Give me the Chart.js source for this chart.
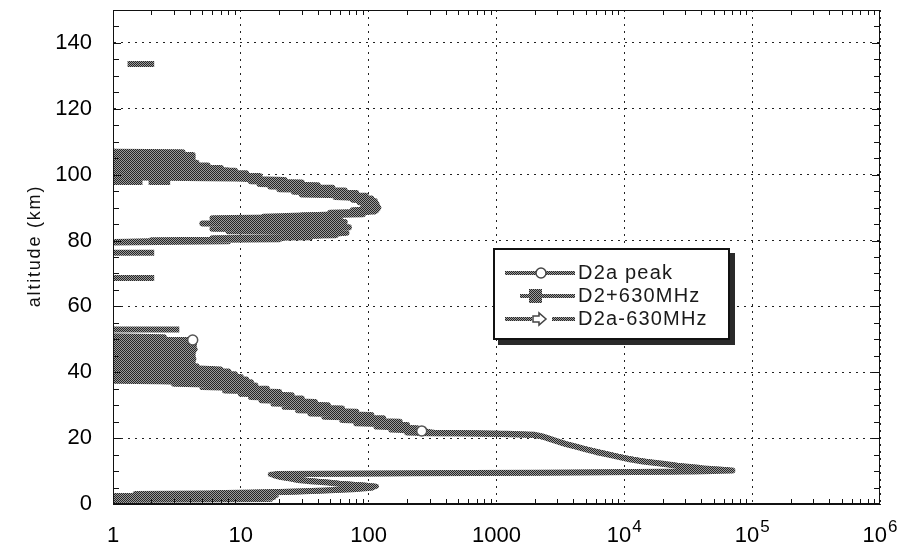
<!DOCTYPE html>
<html>
<head>
<meta charset="utf-8">
<script src="https://cdn.jsdelivr.net/npm/chart.js@4/dist/chart.umd.min.js"></script>
<style>
  html, body { margin: 0; padding: 0; background: #fff; }
</style>
</head>
<body>
<canvas id="profile" width="901" height="549"></canvas>
<script>
// altitude (km), value; null breaks the line
const d2aPeak = [
  [1.2, 1], [1.5, 17], [1.8, 1], [2.1, 18], [2.4, 1], [2.7, 16], [3.0, 1.5], [3.3, 10], [3.7, 25], [4.1, 45],
  [4.5, 75], [4.9, 105], [5.3, 110], [5.7, 85], [6.1, 60], [6.5, 48], [6.9, 35], [7.3, 28], [7.8, 24], [8.3, 20],
  [8.8, 18], [9.1, 19], [9.3, 200], [9.5, 2000], [9.7, 12000], [9.9, 35000], [10.2, 70000],
  [10.6, 42000], [11.0, 38000], [11.6, 26000], [12.2, 20000], [12.9, 14000], [13.6, 11000], [14.3, 9000],
  [15.0, 7500], [15.8, 6000], [16.6, 5000], [17.4, 4200], [18.2, 3500], [19.0, 3000], [19.8, 2600], [20.5, 2300],
  [21.0, 2000], [21.3, 1200], [21.4, 600], [21.5, 300], [21.7, 200],
  [22.2, 260], [22.6, 150], [23.0, 240], [23.5, 115], [24.0, 200], [24.5, 80], [25.0, 175], [25.5, 62],
  [26.0, 130], [26.5, 45], [27.0, 105], [27.5, 35], [28.0, 80], [28.5, 28], [29.0, 62], [29.5, 22], [30.0, 48],
  [30.5, 18], [31.0, 38], [31.5, 14.5], [32.0, 30], [32.5, 12], [33.0, 25], [33.5, 10], [34.0, 20], [34.5, 7.5],
  [35.0, 16], [35.5, 5], [36.0, 13], [36.5, 3], [37.0, 12], [37.4, 1], [37.8, 11], [38.2, 0.9], [38.6, 10],
  [39.0, 0.9], [39.4, 9], [39.8, 0.9], [40.2, 8], [40.6, 0.9], [41.0, 6], [41.4, 0.9], [41.8, 4.5], [42.2, 0.9],
  [42.6, 4.2], [43.0, 0.9], [43.4, 4.2], [43.8, 0.9], [44.2, 4.2], [44.6, 0.9], [45.0, 4.2], [45.4, 0.9],
  [45.8, 4.2], [46.2, 0.9], [46.6, 4.2], [47.0, 0.9], [47.4, 4.2], [47.8, 0.9], [48.2, 4.3], [48.6, 0.9],
  [49.0, 4.3], [49.4, 0.9], [49.8, 4.2], [50.2, 0.9], [50.6, 2.5], [51.0, 0.9], [null, null],
  [53.0, 0.9], [53.0, 3.3], [null, null], [68.6, 0.9], [68.6, 2.1], [null, null], [76.3, 0.9], [76.3, 2.1], [null, null],
  [79.4, 0.9], [79.8, 8], [80.1, 2], [80.4, 20], [80.7, 6], [81.0, 35], [81.3, 15], [81.6, 55], [82.0, 30],
  [82.4, 67], [82.8, 8], [83.2, 60], [83.6, 6], [84.0, 70], [84.4, 10], [84.8, 55], [85.2, 5], [85.6, 65],
  [86.0, 20], [86.4, 45], [86.8, 6], [87.2, 60], [87.6, 30], [88.0, 90], [88.4, 50], [88.8, 110], [89.2, 75],
  [89.6, 117], [90.0, 90], [90.4, 117], [90.8, 95], [91.2, 115], [91.6, 85], [92.0, 112], [92.4, 75], [92.8, 105],
  [93.2, 55], [93.6, 95], [94.0, 30], [94.4, 80], [94.8, 26], [95.2, 65], [95.6, 20], [96.0, 52], [96.4, 17],
  [96.8, 40], [97.2, 14], [97.6, 30], [98.0, 12], [98.4, 22], [98.8, 9], [99.2, 0.9], [99.6, 14], [100.0, 0.9],
  [100.4, 11], [100.8, 0.9], [101.2, 9], [101.6, 0.9], [102.0, 7], [102.4, 0.9], [102.8, 5.5], [103.2, 0.9],
  [103.6, 4.5], [104.0, 0.9], [104.4, 4.2], [104.8, 0.9], [105.2, 4.2], [105.6, 0.9], [106.0, 4.2], [106.4, 0.9],
  [106.8, 3.5], [107.0, 0.9], [null, null],
  [133.6, 1.3], [133.6, 2.1]
];
// altitudes where the D2a peak curve carries its circle marker
const peakMarks = [49.8, 22.2];

const d2Plus630 = [
  [1.8, 1], [2.0, 14], [2.3, 1], [2.6, 19], [3.0, 2], [3.5, 20], [4.2, 55], [4.8, 95], [5.4, 115], [6.0, 70],
  [6.8, 40], [7.6, 27], [8.6, 19], [9.0, 17], [9.4, 900], [9.8, 25000], [10.4, 65000], [11.2, 33000],
  [12.4, 18000], [13.8, 10500], [15.4, 7000], [17.0, 4600], [18.6, 3200], [20.2, 2500], [21.2, 1700],
  [21.6, 700], [21.8, 250], [22.4, 200], [23.2, 160], [24.2, 130], [25.2, 95], [26.2, 75], [27.2, 55],
  [28.2, 42], [29.2, 33], [30.2, 26], [31.2, 20], [32.2, 16], [33.2, 13], [34.2, 11], [35.2, 9], [36.2, 6],
  [37.0, 4], [37.6, 0.9], [38.0, 8], [39.5, 1], [41.0, 7], [42.5, 1], [44.0, 4.3], [45.5, 1], [47.0, 4.4],
  [48.5, 1], [49.6, 4.4], [50.5, 1], [null, null],
  [79.6, 0.9], [80.3, 10], [81.0, 25], [81.8, 45], [82.6, 60], [83.4, 12], [84.4, 65], [85.4, 8], [86.4, 55],
  [87.4, 15], [88.2, 70], [89.0, 115], [90.0, 118], [91.0, 112], [92.0, 100], [93.0, 80], [94.0, 60],
  [95.0, 40], [96.0, 30], [97.0, 22], [98.0, 14], [99.0, 11], [99.8, 9], [100.6, 0.9], [101.4, 8],
  [102.2, 0.9], [103.4, 4.5], [104.6, 0.9], [105.8, 4], [107.2, 0.9]
];

const d2aMinus630 = [
  [1.4, 1], [1.7, 15], [2.2, 1], [2.8, 18], [3.4, 6], [4.0, 40], [4.7, 90], [5.6, 100], [6.4, 52], [7.2, 32],
  [8.0, 22], [9.0, 18], [9.2, 100], [9.6, 8000], [10.0, 50000], [10.8, 40000], [12.0, 22000], [13.2, 13000],
  [14.6, 8500], [16.2, 5600], [17.8, 3800], [19.4, 2800], [20.8, 2100], [21.2, 900], [21.6, 350], [22.8, 220],
  [23.8, 150], [24.8, 115], [25.8, 85], [26.8, 62], [27.8, 48], [28.8, 38], [29.8, 30], [30.8, 24], [31.8, 19],
  [32.8, 15], [33.8, 12], [34.8, 10], [35.8, 7], [36.8, 5], [37.8, 3], [38.6, 0.9], [40.2, 5], [41.8, 0.9],
  [43.2, 4.2], [44.8, 0.9], [46.4, 4.3], [48.0, 0.9], [49.6, 4.2], [50.8, 0.9], [null, null],
  [79.7, 0.9], [80.5, 15], [81.4, 40], [82.2, 65], [83.0, 15], [84.0, 60], [85.0, 9], [86.0, 50], [87.0, 20],
  [88.0, 80], [89.0, 110], [90.0, 120], [91.0, 105], [92.0, 95], [93.0, 70], [94.0, 50], [95.0, 35], [96.0, 28],
  [97.0, 18], [98.0, 13], [99.0, 10], [100.0, 8], [101.0, 0.9], [102.0, 6], [103.0, 0.9], [104.0, 4.2],
  [105.0, 0.9], [106.0, 4], [107.0, 0.9], [null, null],
  [97.6, 0.9], [97.6, 1.7], [null, null], [97.6, 1.9], [97.6, 2.8]
];

const seriesNames = ['D2a peak', 'D2+630MHz', 'D2a-630MHz'];
const xTicks = [1, 10, 100, 1000, 1e4, 1e5, 1e6];
const xLabels = ['1', '10', '100', '1000', '10^4', '10^5', '10^6'];
const yTicks = [0, 20, 40, 60, 80, 100, 120, 140];
const yTitle = 'altitude (km)';

// scanned grey hatching
const tile = document.createElement('canvas');
tile.width = tile.height = 4;
const tc = tile.getContext('2d');
tc.fillStyle = '#9c9c9c';
tc.fillRect(0, 0, 4, 4);
tc.fillStyle = '#262626';
[[0, 0], [1, 1], [2, 2], [3, 3], [2, 0], [3, 1], [0, 2], [1, 3]].forEach(([a, b]) => tc.fillRect(a, b, 1, 1));
const hatch = tc.createPattern(tile, 'repeat');

const toPoints = rows => rows.map(([h, v]) => ({ x: v, y: h }));
const FONT = '"Liberation Sans", Arial, sans-serif';

const frame = {
  id: 'frame',
  afterDatasetsDraw(chart) {
    const { ctx, chartArea: a, scales: { x, y } } = chart;
    ctx.save();
    ctx.strokeStyle = '#111';
    ctx.lineWidth = 1;
    ctx.strokeRect(a.left + 0.5, a.top + 0.5, a.right - a.left - 1, a.bottom - a.top - 1);
    ctx.beginPath();
    for (let d = 1; d < 1e6; d *= 10) {
      for (let m = 2; m < 10; m++) {
        const px = Math.round(x.getPixelForValue(d * m)) + 0.5;
        ctx.moveTo(px, a.bottom); ctx.lineTo(px, a.bottom - 5);
        ctx.moveTo(px, a.top); ctx.lineTo(px, a.top + 5);
      }
    }
    for (let h = 5; h < 150; h += 5) {
      const py = Math.round(y.getPixelForValue(h)) + 0.5;
      const len = h % 20 === 0 ? 8 : 6;
      ctx.moveTo(a.left, py); ctx.lineTo(a.left + len, py);
      ctx.moveTo(a.right, py); ctx.lineTo(a.right - len, py);
    }
    ctx.stroke();
    ctx.restore();
  },
  afterDraw(chart) {
    const { ctx, chartArea: a, scales: { x } } = chart;
    const names = chart.data.datasets.map(d => d.label);

    // x tick labels with raised exponents
    ctx.save();
    ctx.fillStyle = '#000';
    ctx.textBaseline = 'alphabetic';
    xLabels.forEach((lab, i) => {
      const [base, exp] = lab.split('^');
      const px = x.getPixelForValue(xTicks[i]);
      ctx.font = '22px ' + FONT;
      const wb = ctx.measureText(base).width;
      ctx.font = '17px ' + FONT;
      const we = exp ? ctx.measureText(exp).width + 1 : 0;
      const left = px - (wb + we) / 2;
      ctx.font = '22px ' + FONT;
      ctx.fillText(base, left, a.bottom + 38);
      if (exp) {
        ctx.font = '17px ' + FONT;
        ctx.fillText(exp, left + wb + 1, a.bottom + 28);
      }
    });
    ctx.restore();

    // y title
    ctx.save();
    ctx.translate(35, 246);
    ctx.rotate(-Math.PI / 2);
    ctx.font = '18px ' + FONT;
    ctx.letterSpacing = '1.8px';
    ctx.fillStyle = '#111';
    ctx.textAlign = 'center';
    ctx.textBaseline = 'middle';
    ctx.fillText(yTitle, 0, 0);
    ctx.restore();

    // legend box with drop shadow
    ctx.save();
    ctx.fillStyle = '#2a2a2a';
    ctx.fillRect(498, 253, 237, 92);
    ctx.fillStyle = '#fff';
    ctx.fillRect(493, 248, 237, 92);
    ctx.strokeStyle = '#111';
    ctx.lineWidth = 2;
    ctx.strokeRect(494, 249, 235, 90);
    const rows = [273, 296, 319];
    ctx.strokeStyle = hatch;
    ctx.lineWidth = 4;
    ctx.beginPath();
    ctx.moveTo(505, rows[0]); ctx.lineTo(575, rows[0]);
    ctx.moveTo(520, rows[1]); ctx.lineTo(575, rows[1]);
    ctx.moveTo(505, rows[2]); ctx.lineTo(532, rows[2]);
    ctx.moveTo(552, rows[2]); ctx.lineTo(575, rows[2]);
    ctx.stroke();
    // markers
    ctx.lineWidth = 1.5;
    ctx.strokeStyle = '#444';
    ctx.fillStyle = '#fff';
    ctx.beginPath(); ctx.arc(541, rows[0], 5, 0, Math.PI * 2); ctx.fill(); ctx.stroke();
    ctx.fillStyle = hatch;
    ctx.fillRect(529, rows[1] - 7, 13, 14);
    ctx.fillStyle = '#fff';
    ctx.beginPath();
    ctx.moveTo(533, rows[2] - 3); ctx.lineTo(539, rows[2] - 3); ctx.lineTo(539, rows[2] - 6);
    ctx.lineTo(546, rows[2]); ctx.lineTo(539, rows[2] + 6); ctx.lineTo(539, rows[2] + 3);
    ctx.lineTo(533, rows[2] + 3); ctx.closePath();
    ctx.fill(); ctx.stroke();
    // labels
    ctx.font = '20px ' + FONT;
    ctx.letterSpacing = '1.2px';
    ctx.fillStyle = '#1a1a1a';
    ctx.textBaseline = 'middle';
    names.forEach((n, i) => ctx.fillText(n, 578, rows[i]));
    ctx.restore();
  }
};

const lineSet = (label, rows, width, marks) => ({
  label,
  data: toPoints(rows),
  showLine: true,
  borderColor: hatch,
  backgroundColor: hatch,
  borderWidth: width,
  borderJoinStyle: 'round',
  pointRadius: c => (c.raw && marks.includes(c.raw.y) ? 5 : 0),
  pointBackgroundColor: '#fff',
  pointBorderColor: '#555',
  pointBorderWidth: 1.5,
  tension: 0,
  spanGaps: false
});

new Chart(document.getElementById('profile'), {
  type: 'scatter',
  data: {
    datasets: [
      lineSet(seriesNames[0], d2aPeak, 6, peakMarks),
      lineSet(seriesNames[1], d2Plus630, 5, []),
      lineSet(seriesNames[2], d2aMinus630, 5, [])
    ]
  },
  options: {
    responsive: false,
    animation: false,
    devicePixelRatio: 1,
    layout: { padding: { top: 10, right: 21, left: 0, bottom: 0 } },
    plugins: { legend: { display: false }, tooltip: { enabled: false } },
    scales: {
      x: {
        type: 'logarithmic',
        min: 1,
        max: 1e6,
        afterBuildTicks: s => { s.ticks = xTicks.map(v => ({ value: v })); },
        afterFit: s => { s.height = 45; s.paddingLeft = 0; s.paddingRight = 0; },
        ticks: { display: false },
        grid: { color: '#222', lineWidth: 1, drawTicks: false },
        border: { display: true, color: '#111', dash: [2, 5] }
      },
      y: {
        type: 'linear',
        min: 0,
        max: 150,
        afterBuildTicks: s => { s.ticks = yTicks.map(v => ({ value: v })); },
        afterFit: s => { s.width = 113; s.paddingTop = 0; s.paddingBottom = 0; },
        ticks: {
          padding: 21,
          color: '#000',
          font: { family: FONT, size: 22 }
        },
        grid: { color: '#222', lineWidth: 1, drawTicks: false },
        border: { display: true, color: '#111', dash: [2, 5] }
      }
    }
  },
  plugins: [frame]
});
</script>
</body>
</html>
